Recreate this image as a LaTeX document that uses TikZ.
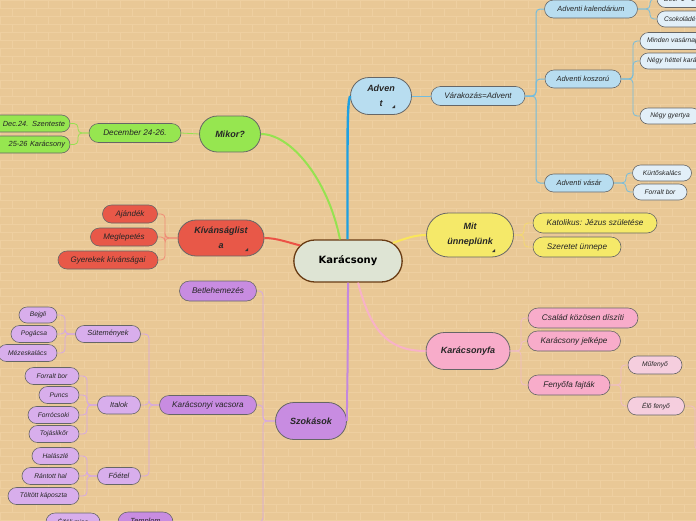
\documentclass[tikz,border=0pt]{standalone}
\usepackage{fontspec}
\setmainfont{Liberation Sans}
\newfontfamily\rootfont{DejaVu Sans}
\usetikzlibrary{shapes.misc}

\definecolor{bgtan}{RGB}{233,200,150}
\definecolor{brick}{RGB}{238,207,160}
\definecolor{rootfill}{RGB}{222,228,212}
\definecolor{rootedge}{RGB}{105,60,20}
\definecolor{advblue}{RGB}{184,221,240}
\definecolor{advpale}{RGB}{226,239,248}
\definecolor{advline}{RGB}{30,160,225}
\definecolor{advthin}{RGB}{115,188,222}
\definecolor{mitfill}{RGB}{245,233,105}
\definecolor{mitline}{RGB}{250,230,90}
\definecolor{mitthin}{RGB}{245,218,110}
\definecolor{fafill}{RGB}{248,172,202}
\definecolor{fapale}{RGB}{245,206,222}
\definecolor{faline}{RGB}{248,178,200}
\definecolor{fathin}{RGB}{240,188,200}
\definecolor{mikfill}{RGB}{150,230,80}
\definecolor{mikline}{RGB}{150,226,80}
\definecolor{kivfill}{RGB}{232,88,72}
\definecolor{kivline}{RGB}{236,82,70}
\definecolor{kivthin}{RGB}{240,140,118}
\definecolor{szokfill}{RGB}{200,140,225}
\definecolor{szokpale}{RGB}{216,174,236}
\definecolor{szokline}{RGB}{196,136,222}
\definecolor{szokthin}{RGB}{214,168,228}

\begin{document}
\begin{tikzpicture}[x=1pt, y=-1pt,
pill/.style={rounded rectangle, draw=black!60, line width=0.6pt, inner sep=0pt, text=black!85, font=\itshape\fontsize{7.4}{8}\selectfont},
leaf/.style={pill, font=\itshape\fontsize{6.7}{8}\selectfont},
topic/.style={pill, line width=0.8pt, align=center, font=\bfseries\itshape\fontsize{9}{15}\selectfont},
branch/.style={line width=2pt},
twig/.style={line width=0.8pt, rounded corners=4pt}
]
\useasboundingbox (0,0) rectangle (696,520);
\fill[bgtan] (0,0) rectangle (696,520);
\clip (0,0) rectangle (696,520);
% brick wall
\foreach \r in {0,...,65} {
  \draw[brick, line width=0.45pt] (0,\r*8) -- (696,\r*8);
  \foreach \k in {0,...,29}
    \draw[brick, line width=0.45pt] ({\k*24+mod(\r,2)*12},\r*8) -- ++(0,8);
}

% centre
\node[rounded rectangle, draw=rootedge, line width=1.3pt, fill=rootfill, minimum width=115pt, minimum height=42pt, font=\rootfont\bfseries\fontsize{10}{12}\selectfont] (root) at (348,261) {Karácsony};

% Advent
\node[topic, fill=advblue, minimum width=61pt, minimum height=37pt] (adv) at (381,96) {Adven\\t};
\node[pill, fill=advblue, minimum width=94pt, minimum height=19pt, font=\itshape\fontsize{8}{9}\selectfont] (var) at (478,96) {Várakozás=Advent};
\node[pill, fill=advblue, minimum width=93pt, minimum height=18pt] (kal) at (591,9) {Adventi kalendárium};
\node[pill, fill=advblue, minimum width=76pt, minimum height=18pt] (kosz) at (583,79) {Adventi koszorú};
\node[pill, fill=advblue, minimum width=69pt, minimum height=18pt] (vas) at (579,183) {Adventi vásár};
\node[leaf, fill=advpale, minimum width=76pt, minimum height=17pt, text width=62pt] (dec1) at (695,-1) {Dec. 1 - 24.};
\node[leaf, fill=advpale, minimum width=86pt, minimum height=16pt, text width=72pt] (csok) at (700,19) {Csokoládé};
\node[leaf, fill=advpale, minimum width=100pt, minimum height=17pt, text width=86pt] (mind) at (690,41) {Minden vasárnap};
\node[leaf, fill=advpale, minimum width=120pt, minimum height=16pt, text width=106pt] (negyhet) at (700,61) {Négy héttel karácsony előtt};
\node[leaf, fill=advpale, minimum width=60pt, minimum height=16pt] (gyert) at (670,116) {Négy gyertya};
\node[leaf, fill=advpale, minimum width=59pt, minimum height=16pt] (kurt) at (662,173) {Kürtőskalács};
\node[leaf, fill=advpale, minimum width=54pt, minimum height=16pt] (fbor1) at (660,192) {Forralt bor};

% Mit ünneplünk
\node[topic, fill=mitfill, minimum width=87pt, minimum height=44pt] (mit) at (470,235) {Mit\\ünneplünk};
\node[pill, fill=mitfill, minimum width=124pt, minimum height=20pt, font=\itshape\fontsize{8.2}{9}\selectfont] (kat) at (595,223) {Katolikus: Jézus születése};
\node[pill, fill=mitfill, minimum width=88pt, minimum height=20pt, font=\itshape\fontsize{8.2}{9}\selectfont] (szer) at (577,247) {Szeretet ünnepe};

% Karácsonyfa
\node[topic, fill=fafill, minimum width=84pt, minimum height=37pt] (kfa) at (468,351) {Karácsonyfa};
\node[pill, fill=fafill, minimum width=110pt, minimum height=20pt, font=\itshape\fontsize{8.2}{9}\selectfont] (csal) at (583,318) {Család közösen díszíti};
\node[pill, fill=fafill, minimum width=93pt, minimum height=20pt, font=\itshape\fontsize{8.2}{9}\selectfont] (jelk) at (574,341) {Karácsony jelképe};
\node[pill, fill=fafill, minimum width=82pt, minimum height=20pt, font=\itshape\fontsize{8.2}{9}\selectfont] (fajt) at (569,385) {Fenyőfa fajták};
\node[leaf, fill=fapale, minimum width=54pt, minimum height=18pt] (muf) at (655,365) {Műfenyő};
\node[leaf, fill=fapale, minimum width=57pt, minimum height=18pt] (elo) at (656,406) {Élő fenyő};
\coordinate (eloT) at (695,0);
\coordinate (eloC) at (720,450);

% Mikor?
\node[topic, fill=mikfill, minimum width=61pt, minimum height=36pt] (mik) at (230,134) {Mikor?};
\node[pill, fill=mikfill, minimum width=92pt, minimum height=19pt, font=\itshape\fontsize{8.2}{9}\selectfont] (dec) at (135,133) {December 24-26.};
\node[pill, fill=mikfill, minimum width=84pt, minimum height=17pt, text width=74pt, align=right] (szent) at (28,123.5) {Dec.24. Szenteste};
\node[pill, fill=mikfill, minimum width=84pt, minimum height=17pt, text width=74pt, align=right] (kar2526) at (28,144.5) {25-26 Karácsony};

% Kívánságlista
\node[topic, fill=kivfill, minimum width=86pt, minimum height=36pt] (kiv) at (221,238) {Kívánságlist\\a};
\node[pill, fill=kivfill, minimum width=55pt, minimum height=18pt, font=\itshape\fontsize{8}{9}\selectfont] (ajand) at (130,214) {Ajándék};
\node[pill, fill=kivfill, minimum width=67pt, minimum height=18pt, font=\itshape\fontsize{8}{9}\selectfont] (megl) at (124,237) {Meglepetés};
\node[pill, fill=kivfill, minimum width=100pt, minimum height=18pt, font=\itshape\fontsize{8}{9}\selectfont] (gyer) at (108,260) {Gyerekek kívánságai};

% Szokasok
\node[topic, fill=szokfill, minimum width=71pt, minimum height=37pt] (szok) at (311,421) {Szokások};
\node[pill, fill=szokfill, minimum width=77pt, minimum height=20pt, font=\itshape\fontsize{8.2}{9}\selectfont] (betl) at (218,291) {Betlehemezés};
\node[pill, fill=szokfill, minimum width=97pt, minimum height=19pt, font=\itshape\fontsize{8.2}{9}\selectfont] (vacs) at (208,405) {Karácsonyi vacsora};
\node[pill, fill=szokfill, minimum width=55pt, minimum height=20pt] (temp) at (145.5,522) {Templom};
\node[pill, fill=szokpale, minimum width=65pt, minimum height=17pt] (sut) at (108,334) {Sütemények};
\node[pill, fill=szokpale, minimum width=43pt, minimum height=18pt] (ital) at (119,405) {Italok};
\node[pill, fill=szokpale, minimum width=43pt, minimum height=17pt] (foet) at (119,476) {Főétel};
\node[leaf, fill=szokpale, minimum width=38pt, minimum height=16pt] (bejg) at (38,315) {Bejgli};
\node[leaf, fill=szokpale, minimum width=46pt, minimum height=17pt] (pog) at (34,334) {Pogácsa};
\node[leaf, fill=szokpale, minimum width=59pt, minimum height=17pt] (mez) at (27.5,353) {Mézeskalács};
\node[leaf, fill=szokpale, minimum width=54pt, minimum height=17pt] (fbor2) at (52,376) {Forralt bor};
\node[leaf, fill=szokpale, minimum width=40pt, minimum height=17pt] (puncs) at (59,395) {Puncs};
\node[leaf, fill=szokpale, minimum width=51pt, minimum height=17pt] (forr) at (53.5,415) {Forrócsoki};
\node[leaf, fill=szokpale, minimum width=50pt, minimum height=17pt] (toj) at (54,434) {Tojáslikőr};
\node[leaf, fill=szokpale, minimum width=47pt, minimum height=17pt] (hal) at (55.5,456) {Halászlé};
\node[leaf, fill=szokpale, minimum width=57pt, minimum height=17pt] (rant) at (50.5,476) {Rántott hal};
\node[leaf, fill=szokpale, minimum width=71pt, minimum height=17pt] (tolt) at (43.5,496) {Töltött káposzta};
\node[leaf, fill=szokpale, minimum width=54pt, minimum height=18pt] (ejf) at (73,522) {Éjféli mise};

% collapse markers
\fill[black!80] (392,108) -- (395,108) -- (395,105) -- cycle;
\fill[black!80] (492,252) -- (495,252) -- (495,249) -- cycle;
\fill[black!80] (245,251) -- (248,251) -- (248,248) -- cycle;

% main branches
\draw[branch, advline, line width=2.4pt] ([xshift=-0.5pt]root.north) .. controls +(0,-110) and +(-3,8) .. (adv.west);
\draw[branch, mikline] ([xshift=-8pt]root.north) .. controls +(-12,-60) and +(30,0) .. (mik.east);
\draw[branch, kivline] (root.162) .. controls +(-12,-3) and +(12,0) .. (kiv.east);
\draw[branch, mitline] (root.22) .. controls +(12,-4) and +(-12,0) .. (mit.west);
\draw[branch, faline] ([xshift=10pt]root.south) .. controls +(12,45) and +(-40,0) .. (kfa.west);
\draw[branch, szokline] (root.south) .. controls +(0,90) and +(0,-25) .. (szok.east);

% trunks
\coordinate (varT) at (536,0);
\coordinate (kalT) at (650,0);
\coordinate (koszT) at (633,0);
\coordinate (vasT) at (626,0);
\coordinate (mitT) at (524,0);
\coordinate (kfaT) at (521,0);
\coordinate (fajtT) at (621,0);
\coordinate (decT) at (78,0);
\coordinate (kivT) at (165,0);
\coordinate (szokT) at (263,0);
\coordinate (vacsT) at (149,0);
\coordinate (sutT) at (65,0);
\coordinate (italT) at (87,0);

\draw[twig, advthin, line width=1pt] (adv.east) -- (var.west);
\foreach \c in {kal,kosz,vas} \draw[twig, advthin, line width=1pt] (var.east) -| (varT |- \c) -- (\c.west);
\foreach \c in {dec1,csok} \draw[twig, advthin] (kal.east) -| (kalT |- \c) -- (\c.west);
\foreach \c in {mind,negyhet,gyert} \draw[twig, advthin] (kosz.east) -| (koszT |- \c) -- (\c.west);
\foreach \c in {kurt,fbor1} \draw[twig, advthin] (vas.east) -| (vasT |- \c) -- (\c.west);
\foreach \c in {kat,szer} \draw[twig, mitthin] (mit.east) -| (mitT |- \c) -- (\c.west);
\foreach \c in {csal,jelk,fajt} \draw[twig, fathin] (kfa.east) -| (kfaT |- \c) -- (\c.west);
\foreach \c in {muf,elo} \draw[twig, fathin] (fajt.east) -| (fajtT |- \c) -- (\c.west);
\draw[twig, fathin] (elo.east) -| (eloT |- eloC) -- (eloC);
\draw[twig, mikline] (mik.west) -- (dec.east);
\foreach \c in {szent,kar2526} \draw[twig, mikline] (dec.west) -| (decT |- \c) -- (\c.east);
\foreach \c in {ajand,megl,gyer} \draw[twig, kivthin] (kiv.west) -| (kivT |- \c) -- (\c.east);
\foreach \c in {betl,vacs,temp} \draw[twig, szokthin] (szok.west) -| (szokT |- \c) -- (\c.east);
\foreach \c in {sut,ital,foet} \draw[twig, szokthin] (vacs.west) -| (vacsT |- \c) -- (\c.east);
\foreach \c in {bejg,pog,mez} \draw[twig, szokthin] (sut.west) -| (sutT |- \c) -- (\c.east);
\foreach \c in {fbor2,puncs,forr,toj} \draw[twig, szokthin] (ital.west) -| (italT |- \c) -- (\c.east);
\foreach \c in {hal,rant,tolt} \draw[twig, szokthin] (foet.west) -| (italT |- \c) -- (\c.east);
\draw[twig, szokthin] (temp.west) -- (ejf.east);
\end{tikzpicture}
\end{document}
